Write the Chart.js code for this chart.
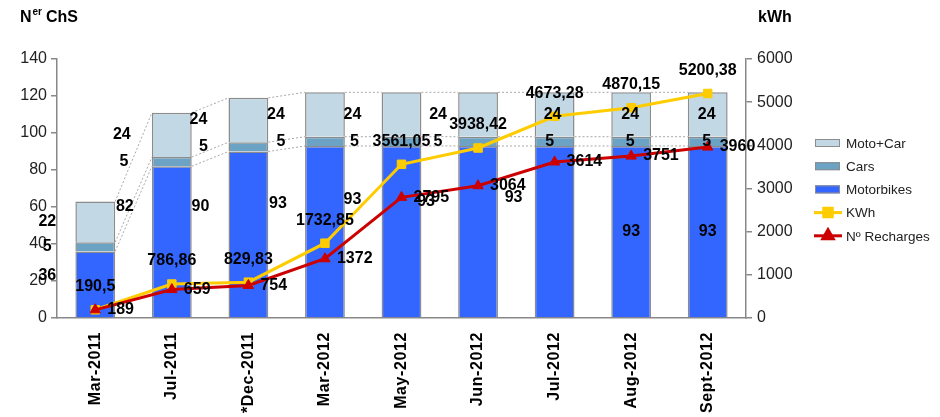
<!DOCTYPE html>
<html>
<head>
<meta charset="utf-8">
<script src="https://cdn.jsdelivr.net/npm/chart.js@4.4.1/dist/chart.umd.min.js"></script>
<style>
  html, body { margin: 0; padding: 0; background: #fff; }
  #wrap { width: 940px; height: 417px; }
</style>
</head>
<body>
<div id="wrap"><canvas id="chart" width="940" height="417"></canvas></div>
<script>
(function(){
  // data
  var categories = ["Mar-2011","Jul-2011","*Dec-2011","Mar-2012","May-2012","Jun-2012","Jul-2012","Aug-2012","Sept-2012"];
  var motorbikes = [36, 82, 90, 93, 93, 93, 93, 93, 93];
  var cars       = [5, 5, 5, 5, 5, 5, 5, 5, 5];
  var motoCar    = [22, 24, 24, 24, 24, 24, 24, 24, 24];
  var kwh        = [190.5, 786.86, 829.83, 1732.85, 3561.05, 3938.42, 4673.28, 4870.15, 5200.38];
  var recharges  = [189, 659, 754, 1372, 2795, 3064, 3614, 3751, 3960];
  var leftTicks  = [0, 20, 40, 60, 80, 100, 120, 140];
  var rightTicks = [0, 1000, 2000, 3000, 4000, 5000, 6000];

  // where the (misplaced) bar labels sit in the original: px shift, and left-axis value for motorbikes
  var motoLabelDx = [-48, -47, -48, -47, -49, -52, -41, 0, 0];
  var carsLabelDx = [-48, -48, -45, -44, -47, -40, -5, -1, -1];
  var mcLabelDx   = [-48, -50, -50, -49, -49, -40, -2, -1, -1];
  var motoLabelAt = [23, 60, 60, 62, 64, 63, 65, 46.5, 46.5];

  var FONT = '"Liberation Sans", Arial, sans-serif';
  var C_MOTO = "#3366ff", C_CARS = "#6ca2c4", C_MC = "#c3d8e5", C_KWH = "#ffcc00", C_REC = "#cc0000";
  var BAR_BORDER = "#8c8c8c";

  function fmt(v){ return String(v).replace(".", ","); }

  var extras = {
    id: "extras",
    beforeDatasetsDraw: function(chart){
      var ctx = chart.ctx;
      ctx.save();
      ctx.strokeStyle = "#a8a8a8";
      ctx.lineWidth = 1;
      ctx.setLineDash([2, 2]);
      [0, 1, 2].forEach(function(d){
        var pts = chart.getDatasetMeta(d).data;
        for(var i = 0; i < pts.length - 1; i++){
          var a = pts[i], b = pts[i+1];
          ctx.beginPath();
          ctx.moveTo(a.x + a.width/2, a.y);
          ctx.lineTo(b.x - b.width/2, b.y);
          ctx.stroke();
        }
      });
      ctx.restore();
    },
    afterDatasetsDraw: function(chart){
      var ctx = chart.ctx, y = chart.scales.y;
      var mb = chart.getDatasetMeta(0).data, cm = chart.getDatasetMeta(1).data, mc = chart.getDatasetMeta(2).data;
      var kp = chart.getDatasetMeta(3).data, rp = chart.getDatasetMeta(4).data;
      ctx.save();
      ctx.font = "bold 16px " + FONT;
      ctx.fillStyle = "#000";
      ctx.textBaseline = "middle";
      ctx.textAlign = "center";
      for(var i = 0; i < categories.length; i++){
        ctx.fillText(String(motorbikes[i]), mb[i].x + motoLabelDx[i], y.getPixelForValue(motoLabelAt[i]));
        ctx.fillText(String(cars[i]), cm[i].x + carsLabelDx[i], (cm[i].y + cm[i].base)/2);
        ctx.fillText(String(motoCar[i]), mc[i].x + mcLabelDx[i], (mc[i].y + mc[i].base)/2);
        ctx.fillText(fmt(kwh[i]), kp[i].x, kp[i].y - 23);
      }
      ctx.textAlign = "left";
      for(var j = 0; j < categories.length; j++){
        ctx.fillText(String(recharges[j]), rp[j].x + 12, rp[j].y);
      }
      ctx.restore();
    },
    afterDraw: function(chart){
      var ctx = chart.ctx, x = chart.scales.x;
      ctx.save();
      // category labels, vertical
      ctx.font = "bold 16px " + FONT;
      ctx.fillStyle = "#000";
      ctx.letterSpacing = "0.6px";
      ctx.textAlign = "right";
      ctx.textBaseline = "middle";
      categories.forEach(function(c, i){
        ctx.save();
        ctx.translate(x.getPixelForValue(i), chart.chartArea.bottom + 14);
        ctx.rotate(-Math.PI/2);
        ctx.fillText(c, 0, 0);
        ctx.restore();
      });
      ctx.letterSpacing = "0px";

      // axis titles
      ctx.textAlign = "left";
      ctx.font = "bold 16px " + FONT;
      ctx.fillText("N", 20, 18);
      var w = ctx.measureText("N").width;
      ctx.font = "bold 10px " + FONT;
      ctx.fillText("er", 20 + w + 1, 12);
      var w2 = ctx.measureText("er").width;
      ctx.font = "bold 16px " + FONT;
      ctx.fillText("ChS", 20 + w + w2 + 5, 18);
      ctx.fillText("kWh", 758, 18);

      // legend
      var items = [
        { t: "Moto+Car", bar: C_MC },
        { t: "Cars", bar: C_CARS },
        { t: "Motorbikes", bar: C_MOTO },
        { t: "KWh", line: C_KWH, pt: "rect" },
        { t: "Nº Recharges", line: C_REC, pt: "triangle" }
      ];
      ctx.font = "13.5px " + FONT;
      items.forEach(function(it, k){
        var cy = 143 + k * 23.2;
        if(it.bar){
          ctx.fillStyle = it.bar;
          ctx.fillRect(815, cy - 4, 25, 8);
          ctx.strokeStyle = BAR_BORDER;
          ctx.lineWidth = 1;
          ctx.strokeRect(815.5, cy - 3.5, 24, 7);
        } else {
          ctx.strokeStyle = it.line;
          ctx.lineWidth = 3;
          ctx.beginPath(); ctx.moveTo(814, cy); ctx.lineTo(842, cy); ctx.stroke();
          ctx.fillStyle = it.line;
          Chart.helpers.drawPoint(ctx, { pointStyle: it.pt, radius: 6, borderWidth: 1 }, 828, cy);
          ctx.fill();
        }
        ctx.fillStyle = "#222";
        ctx.fillText(it.t, 846, cy + 1);
      });
      ctx.restore();
    }
  };

  function plain(v){ return String(v); }

  new Chart(document.getElementById("chart"), {
    data: {
      labels: categories,
      datasets: [
        { type: "bar", label: "Motorbikes", data: motorbikes, backgroundColor: C_MOTO, borderColor: BAR_BORDER, borderWidth: 1.5, yAxisID: "y", order: 2 },
        { type: "bar", label: "Cars", data: cars, backgroundColor: C_CARS, borderColor: BAR_BORDER, borderWidth: 1.5, yAxisID: "y", order: 2 },
        { type: "bar", label: "Moto+Car", data: motoCar, backgroundColor: C_MC, borderColor: BAR_BORDER, borderWidth: 1.5, yAxisID: "y", order: 2 },
        { type: "line", label: "KWh", data: kwh, borderColor: C_KWH, backgroundColor: C_KWH, borderWidth: 3, pointStyle: "rect", pointRadius: 6, pointBorderWidth: 1, tension: 0, yAxisID: "y1", order: 1 },
        { type: "line", label: "Nº Recharges", data: recharges, borderColor: C_REC, backgroundColor: C_REC, borderWidth: 3, pointStyle: "triangle", pointRadius: 6, pointBorderWidth: 1, tension: 0, yAxisID: "y1", order: 0 }
      ]
    },
    options: {
      responsive: false,
      animation: false,
      devicePixelRatio: 1,
      layout: { padding: { top: 59, right: 144, bottom: 0, left: 0 } },
      datasets: { bar: { categoryPercentage: 1, barPercentage: 0.52 } },
      plugins: { legend: { display: false }, tooltip: { enabled: false } },
      scales: {
        x: {
          stacked: true,
          grid: { display: false },
          border: { color: "#888", width: 1.5 },
          ticks: { display: false },
          afterFit: function(s){ s.height = 99; }
        },
        y: {
          stacked: true,
          position: "left",
          min: leftTicks[0], max: leftTicks[leftTicks.length - 1],
          afterBuildTicks: function(s){ s.ticks = leftTicks.map(function(v){ return { value: v }; }); },
          grid: { drawOnChartArea: false, drawTicks: true, tickLength: 6, color: "#888", lineWidth: 1.5 },
          border: { color: "#888", width: 1.5 },
          ticks: { color: "#222", font: { family: FONT, size: 16 }, padding: 4, callback: plain },
          afterFit: function(s){ s.width = 57; }
        },
        y1: {
          position: "right",
          min: rightTicks[0], max: rightTicks[rightTicks.length - 1],
          afterBuildTicks: function(s){ s.ticks = rightTicks.map(function(v){ return { value: v }; }); },
          grid: { drawOnChartArea: false, drawTicks: true, tickLength: 6, color: "#888", lineWidth: 1.5 },
          border: { color: "#888", width: 1.5 },
          ticks: { color: "#222", font: { family: FONT, size: 16 }, padding: 5, callback: plain },
          afterFit: function(s){ s.width = 50; }
        }
      }
    },
    plugins: [extras]
  });
})();
</script>
</body>
</html>
